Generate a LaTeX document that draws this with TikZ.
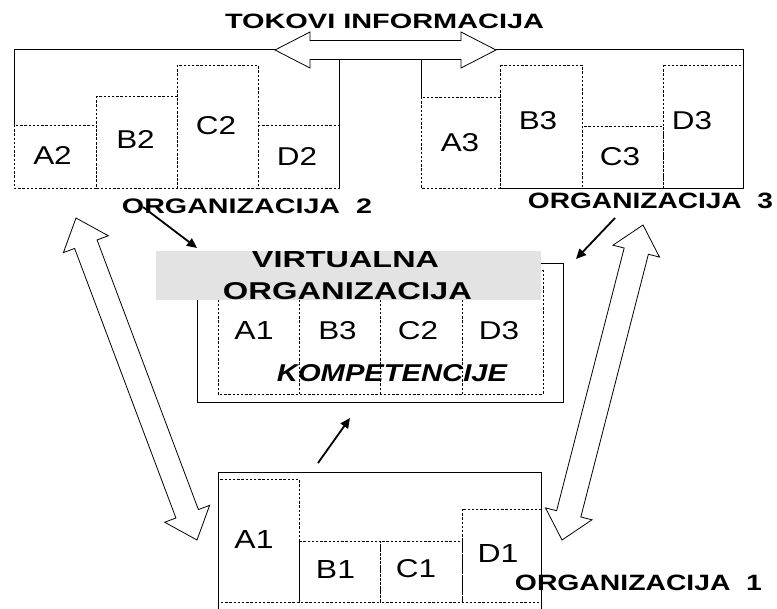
\documentclass[tikz,border=0pt]{standalone}
\usepackage{fontspec}
\setmainfont{Liberation Sans}
\usepackage{graphicx}
\usetikzlibrary{calc,arrows.meta}

\newcommand{\bt}[3]{\resizebox{#1pt}{#2pt}{\bfseries #3}}
\newcommand{\lbl}[1]{\resizebox{!}{18pt}{\scalebox{1.22}[1]{#1}}}
\newcommand{\blockarrow}[5]{%
  \draw[bigarrow] (#1)
   -- ($(#1)!#3!(#2)!#4!90:(#2)$) -- ($(#1)!#3!(#2)!#5!90:(#2)$)
   -- ($(#2)!#3!(#1)!#5!-90:(#1)$) -- ($(#2)!#3!(#1)!#4!-90:(#1)$)
   -- (#2)
   -- ($(#2)!#3!(#1)!#4!90:(#1)$) -- ($(#2)!#3!(#1)!#5!90:(#1)$)
   -- ($(#1)!#3!(#2)!#5!-90:(#2)$) -- ($(#1)!#3!(#2)!#4!-90:(#2)$)
   -- cycle;}

\tikzset{
  solidline/.style={line width=0.9pt, draw=black},
  dashline/.style={line width=0.8pt, draw=black, dash pattern=on 2.4pt off 1.8pt},
  bigarrow/.style={draw=black, fill=white, line width=0.8pt, line join=miter},
  ptr/.style={line width=1.8pt, -{Triangle[length=10pt,width=9pt]}},
  txt/.style={inner sep=0pt, anchor=center},
}
\definecolor{vgray}{HTML}{E3E3E3}

\begin{document}
\begin{tikzpicture}[x=1pt,y=-1pt]
\useasboundingbox (0,0) rectangle (777,609);

% ORGANIZACIJA 2
\draw[solidline] (14,125) -- (14,49) -- (339,49) -- (339,188);
\draw[dashline] (14,125) rectangle (96,188);
\draw[dashline] (96,96) rectangle (177,188);
\draw[dashline] (177,65) rectangle (258,188);
\draw[dashline] (258,125) rectangle (339,188);
\node[txt] (a2) at (52.5,156) {\lbl{A2}};
\node[txt] (b2) at (135.5,140) {\lbl{B2}};
\node[txt] (c2) at (216,126) {\lbl{C2}};
\node[txt] (d2) at (297,157) {\lbl{D2}};

% ORGANIZACIJA 3
\draw[solidline] (421,97) -- (421,49) -- (743,49) -- (743,188) -- (500,188);
\draw[dashline] (421,97) rectangle (500,188);
\draw[dashline] (500,65) rectangle (582,188);
\draw[dashline] (582,126) rectangle (663,188);
\draw[dashline] (663,65) rectangle (743,188);
\node[txt] (a3) at (460,143) {\lbl{A3}};
\node[txt] (b3) at (538,121) {\lbl{B3}};
\node[txt] (c3) at (620,157) {\lbl{C3}};
\node[txt] (d3) at (692,121) {\lbl{D3}};

% top double arrow
\coordinate (t1) at (275,50);
\coordinate (t2) at (496,50);
\blockarrow{t1}{t2}{35pt}{18pt}{9.5pt}
\node[txt] (tok) at (384.5,21) {\bt{319}{14.5}{TOKOVI INFORMACIJA}};

% VIRTUALNA ORGANIZACIJA
\draw[solidline] (197,263) rectangle (563,402);
\draw[dashline] (218,270) rectangle (543,394);
\draw[dashline] (299,270) -- (299,394);
\draw[dashline] (380,270) -- (380,394);
\draw[dashline] (462,270) -- (462,394);
\fill[vgray] (156,251) rectangle (541,300);
\node[txt] (vt1) at (345.5,259.5) {\bt{187}{16}{VIRTUALNA}};
\node[txt] (vt2) at (347.5,291) {\bt{249}{17}{ORGANIZACIJA}};
\node[txt] (va1) at (254,331) {\lbl{A1}};
\node[txt] (vb3) at (337.5,331) {\lbl{B3}};
\node[txt] (vc2) at (418,331) {\lbl{C2}};
\node[txt] (vd3) at (499,331) {\lbl{D3}};
\node[txt] (komp) at (392,373.5) {\resizebox{230pt}{17pt}{\bfseries\itshape KOMPETENCIJE}};

% ORGANIZACIJA 1
\draw[solidline] (218,612) -- (218,472) -- (541,472) -- (541,612);
\draw[dashline] (218,479) rectangle (299,602);
\draw[dashline] (299,541) rectangle (380,602);
\draw[dashline] (380,541) rectangle (462,602);
\draw[dashline] (462,509) rectangle (541,602);
\node[txt] (a1) at (254,539) {\lbl{A1}};
\node[txt] (b1) at (335.5,569) {\lbl{B1}};
\node[txt] (c1) at (416,569) {\lbl{C1}};
\node[txt] (d1) at (498,553) {\lbl{D1}};

% side double arrows
\coordinate (l1) at (76,218);
\coordinate (l2) at (197,540);
\blockarrow{l1}{l2}{28pt}{24pt}{12pt}
\coordinate (r1) at (643,225);
\coordinate (r2) at (562,540);
\blockarrow{r1}{r2}{27pt}{24pt}{12.5pt}

% small pointer arrows
\coordinate (p2s) at (143,207);
\coordinate (p2e) at (197,248);
\coordinate (p3s) at (615,218);
\coordinate (p3e) at (576,259);
\coordinate (p1s) at (318,463);
\coordinate (p1e) at (350,418);
\draw[ptr] (p2s) -- (p2e);
\draw[ptr] (p3s) -- (p3e);
\draw[ptr] (p1s) -- (p1e);

% organisation labels
\node[txt] (o2) at (247,206.5) {\bt{250}{14.7}{ORGANIZACIJA~~2}};
\node[txt] (o3) at (650.5,200.5) {\bt{245}{15.5}{ORGANIZACIJA~~3}};
\node[txt] (o1) at (638.5,583) {\bt{247}{15.5}{ORGANIZACIJA~~1}};
\end{tikzpicture}
\end{document}
